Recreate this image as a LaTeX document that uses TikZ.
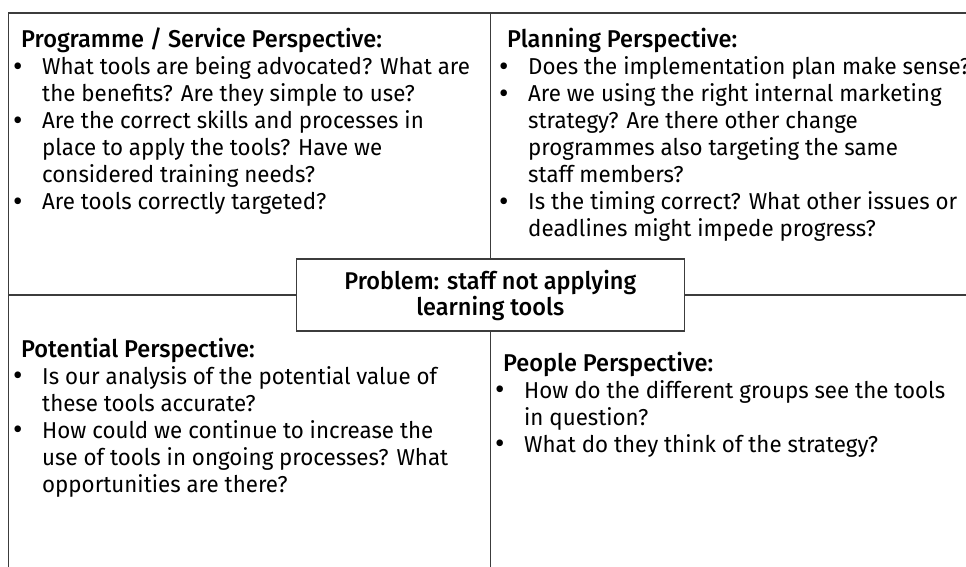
\documentclass[tikz,border=0pt]{standalone}
\usepackage{fontspec}
\setmainfont{Fira Sans}[FakeStretch=0.97,BoldFont={Fira Sans Medium}]
\definecolor{framegray}{HTML}{3C3C3C}
\newcommand\bl[1]{\hspace*{-8pt}\makebox[29pt][l]{\raisebox{-1.6pt}{\scalebox{1.3}{•}}}#1}
\newcommand\ct[1]{\hspace*{21pt}#1}
\newcommand\quadtext[2]{\parbox[t]{700pt}{\raggedright\fontsize{23pt}{27pt}\selectfont\parindent0pt {\fontsize{24.3pt}{27pt}\selectfont\bfseries #1}\\#2}}
\begin{document}
\begin{tikzpicture}[x=1pt,y=-1pt,
  frameline/.style={draw=framegray,line width=1.5pt},
  quad/.style={anchor=base west,inner sep=0pt,text=black},
  probbox/.style={draw=framegray,line width=1.5pt,minimum width=388pt,minimum height=72pt,inner sep=0pt,align=center,font=\fontsize{24.2pt}{26pt}\selectfont\bfseries}]
\useasboundingbox (0,0) rectangle (966,567);
\clip (0,0) rectangle (966,567);
\coordinate (tl) at (8.5,13);
\coordinate (tr) at (966,13);
\coordinate (bl) at (8.5,567);
\coordinate (topmid) at (490.3,13);
\coordinate (botmid) at (490.3,567);
\coordinate (lmid) at (8.5,295);
\coordinate (rmid) at (966,295);
\draw[frameline] (tr) -- (tl) -- (bl);
\node[probbox] (prob) at (490.3,295) {Problem: staff not applying\\learning tools};
\draw[frameline] (prob.north) -- (topmid);
\draw[frameline] (prob.south) -- (botmid);
\draw[frameline] (prob.west) -- (lmid);
\draw[frameline] (prob.east) -- (rmid);
\node[quad] (q1) at (21,48) {\quadtext{Programme / Service Perspective:}{%
\bl{What tools are being advocated? What are}\\
\ct{the benefits? Are they simple to use?}\\
\bl{Are the correct skills and processes in}\\
\ct{place to apply the tools? Have we}\\
\ct{considered training needs?}\\
\bl{Are tools correctly targeted?}}};
\node[quad] (q2) at (507,48) {\quadtext{Planning Perspective:}{%
\bl{Does the implementation plan make sense?}\\
\bl{Are we using the right internal marketing}\\
\ct{strategy? Are there other change}\\
\ct{programmes also targeting the same}\\
\ct{staff members?}\\
\bl{Is the timing correct? What other issues or}\\
\ct{deadlines might impede progress?}}};
\node[quad] (q3) at (21,357) {\quadtext{Potential Perspective:}{%
\bl{Is our analysis of the potential value of}\\
\ct{these tools accurate?}\\
\bl{How could we continue to increase the}\\
\ct{use of tools in ongoing processes? What}\\
\ct{opportunities are there?}}};
\node[quad] (q4) at (503,371) {\quadtext{People Perspective:}{%
\bl{How do the different groups see the tools}\\
\ct{in question?}\\
\bl{What do they think of the strategy?}}};
\end{tikzpicture}
\end{document}
